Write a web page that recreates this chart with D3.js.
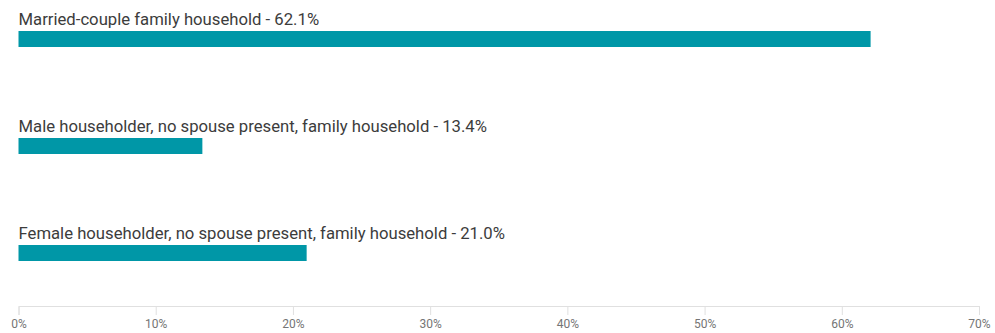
<!DOCTYPE html>
<html><head><meta charset="utf-8">
<script src="https://cdn.jsdelivr.net/npm/d3@7"></script>
<style>body{margin:0;background:#fff;font-family:Roboto,sans-serif}</style>
</head><body><svg id="c" width="995" height="333"></svg>
<script>
const categories = ["Married-couple family household","Male householder, no spouse present, family household","Female householder, no spouse present, family household"];
const values = [62.1, 13.4, 21.0];
const tickValues = [0,10,20,30,40,50,60,70];

const svg = d3.select("#c");
const x = d3.scaleLinear().domain([0,70]).range([18.5,979]);
const y = d3.scaleBand().domain(categories).range([0,321]).paddingInner(0).paddingOuter(0);
const barTop = d => y(d) + 31;
const barH = 16;

svg.selectAll("rect.bar").data(categories).join("rect")
  .attr("x", x(0)).attr("y", d => barTop(d))
  .attr("width", (d,i) => x(values[i]) - x(0)).attr("height", barH)
  .attr("fill", "#0097a7");

svg.selectAll("text.lab").data(categories).join("text")
  .attr("x", 18.5).attr("y", d => barTop(d) - 6.5)
  .attr("font-size", 16.7).attr("fill", "#3c3c3c")
  .text((d,i) => `${d} - ${values[i].toFixed(1)}%`);

const axis = d3.axisBottom(x).tickValues(tickValues).tickFormat(d => d + "%").tickSize(9).tickPadding(4);
const g = svg.append("g").attr("transform","translate(0,306)").call(axis);
g.select(".domain").attr("stroke","#e0e0e0");
g.selectAll(".tick line").attr("stroke","#e0e0e0");
g.selectAll(".tick text").attr("fill","#757575").attr("font-size",12).attr("font-family","Roboto,sans-serif");
</script></body></html>
